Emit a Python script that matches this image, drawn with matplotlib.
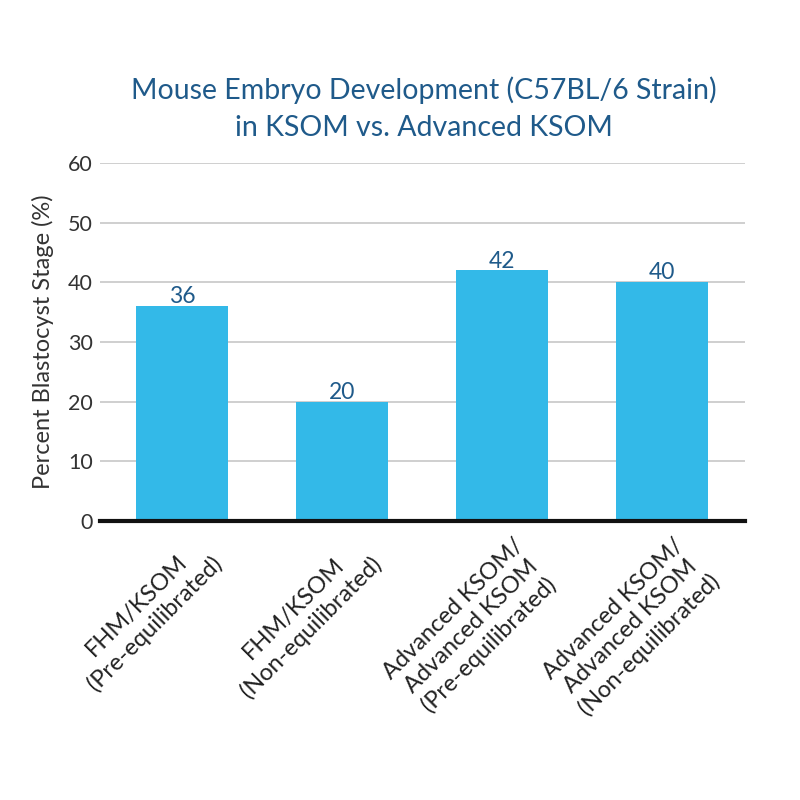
import matplotlib
matplotlib.use("Agg")
from matplotlib import pyplot as plt
from matplotlib import transforms
import numpy as np

categories = [
    "FHM/KSOM\n(Pre-equilibrated)",
    "FHM/KSOM\n(Non-equilibrated)",
    "Advanced KSOM/\nAdvanced KSOM\n(Pre-equilibrated)",
    "Advanced KSOM/\nAdvanced KSOM\n(Non-equilibrated)",
]
percent_blastocyst = [36, 20, 42, 40]
y_ticks = [0, 10, 20, 30, 40, 50, 60]

plt.rcParams['font.family'] = ['Lato', 'DejaVu Sans']

fig = plt.figure(figsize=(8, 8), dpi=100)
ax = fig.add_axes([0.125, 0.349, 0.806, 0.447])

x_pos = np.arange(len(categories))
ax.bar(x_pos, percent_blastocyst, width=0.575, color='#33b9e8', zorder=3)

for x, v in zip(x_pos, percent_blastocyst):
    ax.text(x, v + 0.5, str(v), ha='center', va='baseline',
            fontsize=16.5, color='#1f5a8a', zorder=4)

ax.set_xlim(-0.515, 3.52)
ax.set_ylim(0, 60)
ax.set_yticks(y_ticks)
ax.tick_params(axis='y', length=0, labelsize=15.5, labelcolor='#333333', pad=5)
ax.grid(axis='y', color='#cccccc', linewidth=1.3, zorder=0)

ax.set_xticks(x_pos)
ax.set_xticklabels(categories, rotation=45, ha='right', rotation_mode='anchor',
                   fontsize=17, color='#222222',
                   linespacing=1.22, multialignment='center')
ax.tick_params(axis='x', length=0, pad=10)
shift = transforms.ScaledTranslation(0.11, 0, fig.dpi_scale_trans)
for lbl in ax.get_xticklabels():
    lbl.set_transform(lbl.get_transform() + shift)

for s in ['top', 'right', 'left']:
    ax.spines[s].set_visible(False)
ax.spines['bottom'].set_linewidth(3)
ax.spines['bottom'].set_color('#111111')
ax.spines['bottom'].set_zorder(5)

ax.set_ylabel('Percent Blastocyst Stage (%)', fontsize=17,
              color='#333333', labelpad=10)

fig.text(0.53, 0.864, 'Mouse Embryo Development (C57BL/6 Strain)\nin KSOM vs. Advanced KSOM',
         ha='center', va='center', fontsize=20.5, color='#1f5a8a', linespacing=1.5)

fig.savefig('out.png', dpi=100)
